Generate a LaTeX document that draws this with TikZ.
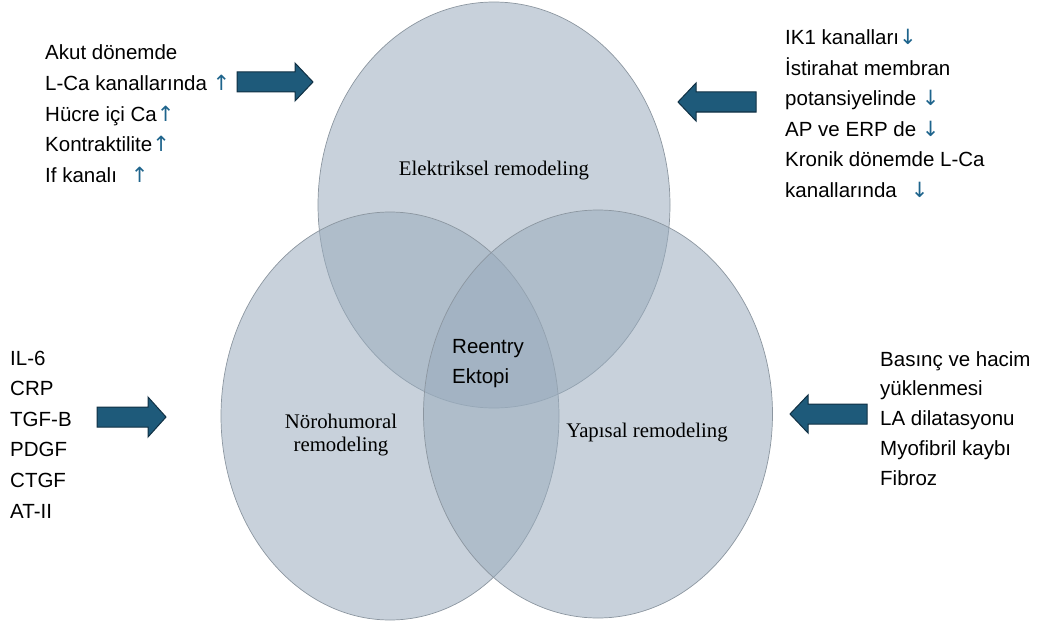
\documentclass[tikz,border=0pt]{standalone}
\usepackage{fontspec}
\setmainfont{Liberation Serif}
\setsansfont{Liberation Sans}
\newfontfamily\symfont{DejaVu Sans}
\usetikzlibrary{shapes.geometric}
\definecolor{vennfill}{RGB}{154,172,189}
\definecolor{venndraw}{RGB}{140,150,160}
\definecolor{arrfill}{RGB}{30,90,122}
\definecolor{arrdraw}{RGB}{16,48,68}
\definecolor{updn}{RGB}{30,100,140}
\newcommand{\myup}{{\color{updn}\fontsize{21}{21}\selectfont\symfont ↑}}
\newcommand{\mydn}{{\color{updn}\fontsize{21}{21}\selectfont\symfont ↓}}
\begin{document}
\begin{tikzpicture}[x=1pt,y=-1pt,
  venn/.style={ellipse, draw=venndraw, line width=0.7pt, fill=vennfill, fill opacity=0.55, inner sep=0pt},
  sanslbl/.style={font=\sffamily\fontsize{20.5}{24}\selectfont, inner sep=0pt, anchor=base west},
  seriflbl/.style={font=\rmfamily\fontsize{20.8}{24}\selectfont, inner sep=0pt, anchor=base},
  fatarrow/.style={fill=arrfill, draw=arrdraw, line width=1pt, line join=miter}]
\useasboundingbox (0,0) rectangle (1045,634);
% Venn ellipses
\node[venn, minimum width=352pt, minimum height=406pt] (E) at (494,205) {};
\node[venn, minimum width=338pt, minimum height=408pt] (N) at (390,416) {};
\node[venn, minimum width=349pt, minimum height=408pt] (Y) at (598,414) {};
% Venn labels
\node[seriflbl] (lE) at (494,175) {Elektriksel remodeling};
\node[seriflbl] (lN1) at (341,428) {Nörohumoral};
\node[seriflbl] (lN2) at (341,451) {remodeling};
\node[seriflbl] (lY) at (647,437) {Yapısal remodeling};
\node[sanslbl] (r1) at (452,353) {Reentry};
\node[sanslbl] (r2) at (452,383) {Ektopi};
% Left top list
\foreach \t [count=\i] in {Akut dönemde, L-Ca kanallarında \myup, Hücre içi Ca\myup, Kontraktilite\myup, If kanalı\hspace{14pt}\myup}
  \node[sanslbl] (a\i) at (45,{60+(\i-1)*30.6}) {\t};
% Right top list
\foreach \t [count=\i] in {IK1 kanalları\mydn, İstirahat membran, potansiyelinde \mydn, AP ve ERP de \mydn, Kronik dönemde L-Ca, kanallarında\hspace{14pt}\mydn}
  \node[sanslbl] (b\i) at (785,{45+(\i-1)*30.4}) {\t};
% Left middle list
\foreach \t [count=\i] in {IL-6, CRP, TGF-B, PDGF, CTGF, AT-II}
  \node[sanslbl] (c\i) at (10,{365+(\i-1)*30.6}) {\t};
% Right middle list
\foreach \t [count=\i] in {Basınç ve hacim, yüklenmesi, LA dilatasyonu, Myofibril kaybı, Fibroz}
  \node[sanslbl] (d\i) at (880,{366+(\i-1)*29.8}) {\t};
% Block arrows
\draw[fatarrow] (237,72) -- (295,72) -- (295,63) -- (313,82) -- (295,101) -- (295,92) -- (237,92) -- cycle;
\draw[fatarrow] (756,92) -- (696,92) -- (696,83) -- (678,102) -- (696,121) -- (696,112) -- (756,112) -- cycle;
\draw[fatarrow] (97,407) -- (148,407) -- (148,397) -- (166,417) -- (148,437) -- (148,427) -- (97,427) -- cycle;
\draw[fatarrow] (867,404) -- (808,404) -- (808,395) -- (790,414) -- (808,433) -- (808,424) -- (867,424) -- cycle;
\end{tikzpicture}
\end{document}
